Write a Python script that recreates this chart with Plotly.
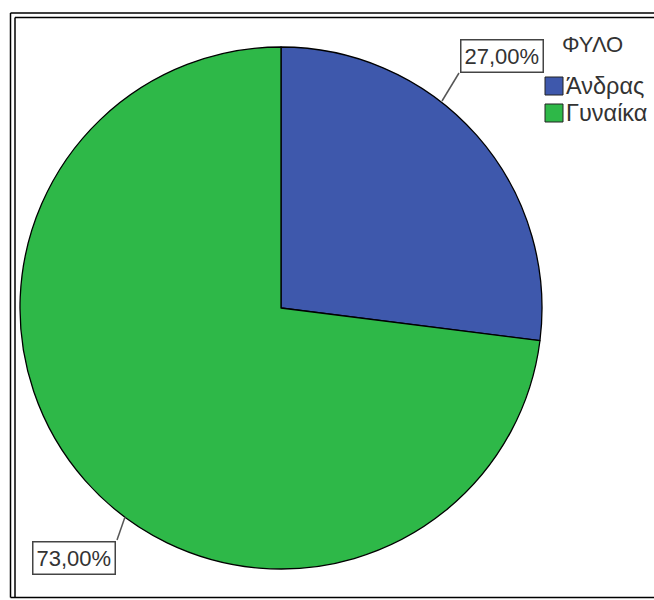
import plotly.graph_objects as go

# Gender split (ΦΥΛΟ)
categories = ["Άνδρας", "Γυναίκα"]
percentages = [27.0, 73.0]
slice_colors = ["#3E58AC", "#2EB848"]
legend_title = "ΦΥΛΟ"

W, H = 654, 600
FONT = "Liberation Sans, Arial, sans-serif"
TEXT_COLOR = "#333333"


def px(x):
    return x / W


def py(y):
    return 1 - y / H


# pie geometry in pixels
cx, cy, r = 281, 308, 261

fig = go.Figure(
    go.Pie(
        labels=categories,
        values=percentages,
        sort=False,
        direction="clockwise",
        rotation=0,
        textinfo="none",
        hoverinfo="label+percent",
        marker=dict(colors=slice_colors, line=dict(color="#000000", width=1.3)),
        domain=dict(x=[px(cx - r), px(cx + r)], y=[py(cy + r), py(cy - r)]),
        showlegend=False,
    )
)

shapes = []
annotations = []

# boxed percentage labels with leader lines to the slice edge
label_boxes = [(501.5, 55.5), (73.5, 558)]
leader_from = [(459, 73), (117, 540)]
leader_to = [(442, 101), (125, 517)]
for v, (bx, by), (x0, y0), (x1, y1) in zip(percentages, label_boxes, leader_from, leader_to):
    txt = f"{v:.2f}%".replace(".", ",")
    annotations.append(dict(
        x=px(bx), y=py(by), xref="paper", yref="paper", showarrow=False,
        text=txt, font=dict(family=FONT, size=22, color=TEXT_COLOR),
        bgcolor="white", bordercolor="#444444", borderwidth=1.5, borderpad=3,
        xanchor="center", yanchor="middle",
    ))
    shapes.append(dict(type="line", xref="paper", yref="paper",
                       x0=px(x0), y0=py(y0), x1=px(x1), y1=py(y1),
                       line=dict(color="#555555", width=1.5)))

# legend drawn with swatches and labels
annotations.append(dict(
    x=px(592), y=py(45), xref="paper", yref="paper", showarrow=False,
    text=legend_title, font=dict(family=FONT, size=22, color=TEXT_COLOR),
    xanchor="center", yanchor="middle",
))
for i, (name, col) in enumerate(zip(categories, slice_colors)):
    top = 77 + 27 * i
    shapes.append(dict(type="rect", xref="paper", yref="paper",
                       x0=px(545), x1=px(563), y0=py(top + 18), y1=py(top),
                       fillcolor=col, line=dict(color="#222222", width=1)))
    annotations.append(dict(
        x=px(564), y=py(top + 9), xref="paper", yref="paper", showarrow=False,
        text=name, font=dict(family=FONT, size=23.5, color=TEXT_COLOR),
        xanchor="left", yanchor="middle",
    ))

# double frame around the chart
for x0, y0 in [(10.5, 13), (15, 17.5)]:
    shapes.append(dict(type="line", xref="paper", yref="paper",
                       x0=px(x0), y0=py(y0), x1=px(W + 5), y1=py(y0),
                       line=dict(color="#000000", width=1.5)))
    shapes.append(dict(type="line", xref="paper", yref="paper",
                       x0=px(x0), y0=py(y0), x1=px(x0), y1=py(597.5),
                       line=dict(color="#000000", width=1.5)))
shapes.append(dict(type="line", xref="paper", yref="paper",
                   x0=px(10.5), y0=py(597.5), x1=px(W + 5), y1=py(597.5),
                   line=dict(color="#000000", width=1.5)))

fig.update_layout(
    width=W, height=H,
    margin=dict(l=0, r=0, t=0, b=0),
    paper_bgcolor="white", plot_bgcolor="white",
    shapes=shapes, annotations=annotations,
)

fig.write_html("out.html")
